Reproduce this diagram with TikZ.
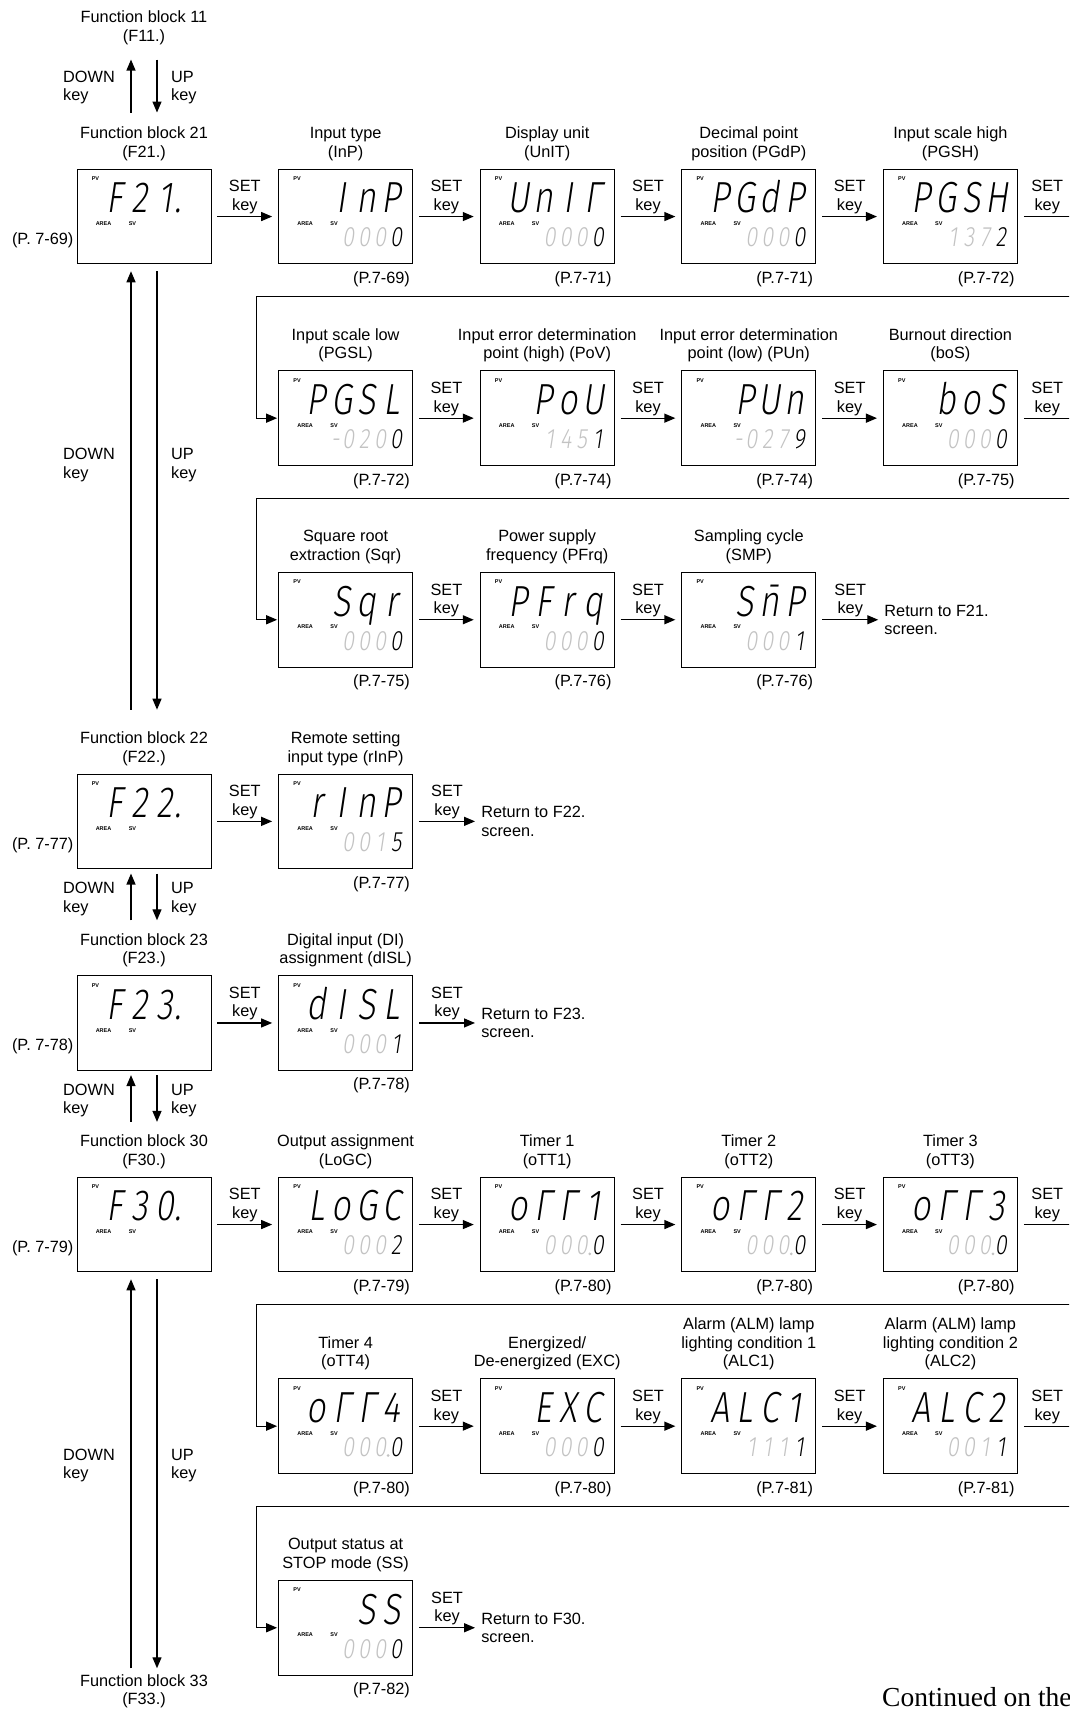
\documentclass[tikz,border=0pt]{standalone}
\usepackage{fontspec}
\setmainfont{Liberation Sans}
\newfontfamily\segfont[FakeSlant=0.15,FakeStretch=0.78]{Fira Sans Light}
\newfontfamily\contfont{Liberation Serif}
\usetikzlibrary{arrows.meta,calc}
\definecolor{segGrey}{RGB}{195,195,195}
\tikzset{
  lbl/.style={font=\fontsize{16.3}{18.6}\selectfont, align=center, inner sep=0pt},
  dispbox/.style={draw, line width=0.9pt, minimum width=134pt, minimum height=94.5pt, inner sep=0pt},
  arr/.style={line width=1.3pt, -{Triangle[length=11pt,width=9pt]}},
  tinylbl/.style={font=\fontsize{5.5}{6}\selectfont\bfseries, inner sep=0pt, anchor=west},
  pvch/.style={font=\segfont\fontsize{43.5}{44}\selectfont, inner sep=0pt, anchor=base},
  svch/.style={font=\segfont\fontsize{28}{28}\selectfont, inner sep=0pt, anchor=base},
  svgrey/.style={svch, text=segGrey},
  setlbl/.style={lbl, anchor=south, inner sep=2pt},
}
\def\cxA{77}\def\cxB{278.6}\def\cxC{480.2}\def\cxD{681.8}\def\cxE{883.4}
\def\ryA{169.3}\def\ryB{370.9}\def\ryC{572.5}\def\ryD{774.1}
\def\ryE{975.7}\def\ryF{1177.3}\def\ryG{1378.9}\def\ryH{1580.5}
\newcommand\dbox[3]{%
  \node[dispbox] (#1) at ({#2+67},{#3+47.25}) {};
  \node[tinylbl] (#1-pv) at ($(#1.north west)+(15,10)$) {PV};
  \node[tinylbl] (#1-area) at ($(#1.north west)+(19,55)$) {AREA};
  \node[tinylbl] (#1-svl) at ($(#1.north west)+(52,55)$) {SV};}
\newcommand\pv[5]{%
  \node[pvch] (#1-p1) at ($(#1.north west)+(38.5,44)$) {#2};
  \node[pvch] (#1-p2) at ($(#1.north west)+(63.5,44)$) {#3};
  \node[pvch] (#1-p3) at ($(#1.north west)+(88.5,44)$) {#4};
  \node[pvch] (#1-p4) at ($(#1.north west)+(113.5,44)$) {#5};}
\newcommand\sv[5]{%
  \node[svgrey] (#1-s1) at ($(#1.north west)+(70,78)$) {#2};
  \node[svgrey] (#1-s2) at ($(#1.north west)+(86,78)$) {#3};
  \node[svgrey] (#1-s3) at ($(#1.north west)+(102,78)$) {#4};
  \node[svch] (#1-s4) at ($(#1.north west)+(118,78)$) {#5};}
\newcommand\pvdot[1]{\node[pvch] (#1-pd) at ($(#1.north west)+(101,44)$) {.};}
\newcommand\svdot[1]{\fill[segGrey] ($(#1.north west)+(110,77)$) circle[radius=1.5pt];}
\newcommand\svminus[1]{\node[svgrey] (#1-sm) at ($(#1.north west)+(57,78)$) {-};}
\newcommand\toplbl[2]{\node[lbl, anchor=south] (#1-t) at ($(#1.north)+(0,-8)$) {#2};}
\newcommand\pref[2]{\node[lbl, anchor=east] (#1-r) at ($(#1.south east)+(-3,15)$) {#2};}
\newcommand\lpref[2]{\node[lbl, anchor=east] (#1-r) at ($(#1.south west)+(-3,-24)$) {#2};}
\newcommand\setarr[2]{\draw[arr] ([xshift=6pt]#1.east) -- ([xshift=-6pt]#2.west) node[midway, setlbl] (#1-set) {SET\\key};}
\newcommand\wraparr[2]{\draw[arr] ([xshift=6pt]#1.east) -- ++(52,0) node[pos=0.45, setlbl] (#1-set) {SET\\key} -- ++(0,80) -| ($(#2.west)+(-21.6,0)$) -- ([xshift=-1pt]#2.west);}
\newcommand\retarr[3]{\node[lbl, anchor=west, align=left] (#2) at ($(#1.east)+(68,0)$) {#3};\setarr{#1}{#2}}
\newcommand\keys[2]{%
  \node[lbl, align=left, anchor=west] (#1-dn) at (63,#2) {DOWN\\key};
  \node[lbl, align=left, anchor=west] (#1-up) at (171,#2) {UP\\key};}
\begin{document}
\begin{tikzpicture}[x=1pt,y=-1pt]
\useasboundingbox (0,0) rectangle (1069,1709);
\clip (0,0) rectangle (1069,1709);
\fill[white] (0,0) rectangle (1069,1709);

% ---------- Row 1 ----------
\dbox{b11}{\cxA}{\ryA}\pv{b11}{F}{2}{1}{}\pvdot{b11}
\toplbl{b11}{Function block 21\\(F21.)}\lpref{b11}{(P. 7-69)}
\dbox{b12}{\cxB}{\ryA}\pv{b12}{}{I}{n}{P}\sv{b12}{0}{0}{0}{0}
\toplbl{b12}{Input type\\(InP)}\pref{b12}{(P.7-69)}
\dbox{b13}{\cxC}{\ryA}\pv{b13}{U}{n}{I}{Γ}\sv{b13}{0}{0}{0}{0}
\toplbl{b13}{Display unit\\(UnIT)}\pref{b13}{(P.7-71)}
\dbox{b14}{\cxD}{\ryA}\pv{b14}{P}{G}{d}{P}\sv{b14}{0}{0}{0}{0}
\toplbl{b14}{Decimal point\\position (PGdP)}\pref{b14}{(P.7-71)}
\dbox{b15}{\cxE}{\ryA}\pv{b15}{P}{G}{S}{H}\sv{b15}{1}{3}{7}{2}
\toplbl{b15}{Input scale high\\(PGSH)}\pref{b15}{(P.7-72)}

% ---------- Row 2 ----------
\dbox{b22}{\cxB}{\ryB}\pv{b22}{P}{G}{S}{L}\sv{b22}{0}{2}{0}{0}\svminus{b22}
\toplbl{b22}{Input scale low\\(PGSL)}\pref{b22}{(P.7-72)}
\dbox{b23}{\cxC}{\ryB}\pv{b23}{}{P}{o}{U}\sv{b23}{1}{4}{5}{1}
\toplbl{b23}{Input error determination\\point (high) (PoV)}\pref{b23}{(P.7-74)}
\dbox{b24}{\cxD}{\ryB}\pv{b24}{}{P}{U}{n}\sv{b24}{0}{2}{7}{9}\svminus{b24}
\toplbl{b24}{Input error determination\\point (low) (PUn)}\pref{b24}{(P.7-74)}
\dbox{b25}{\cxE}{\ryB}\pv{b25}{}{b}{o}{S}\sv{b25}{0}{0}{0}{0}
\toplbl{b25}{Burnout direction\\(boS)}\pref{b25}{(P.7-75)}

% ---------- Row 3 ----------
\dbox{b32}{\cxB}{\ryC}\pv{b32}{}{S}{q}{r}\sv{b32}{0}{0}{0}{0}
\toplbl{b32}{Square root\\extraction (Sqr)}\pref{b32}{(P.7-75)}
\dbox{b33}{\cxC}{\ryC}\pv{b33}{P}{F}{r}{q}\sv{b33}{0}{0}{0}{0}
\toplbl{b33}{Power supply\\frequency (PFrq)}\pref{b33}{(P.7-76)}
\dbox{b34}{\cxD}{\ryC}\pv{b34}{}{S}{\=n}{P}\sv{b34}{0}{0}{0}{1}
\toplbl{b34}{Sampling cycle\\(SMP)}\pref{b34}{(P.7-76)}

% ---------- Row 4 ----------
\dbox{b41}{\cxA}{\ryD}\pv{b41}{F}{2}{2}{}\pvdot{b41}
\toplbl{b41}{Function block 22\\(F22.)}\lpref{b41}{(P. 7-77)}
\dbox{b42}{\cxB}{\ryD}\pv{b42}{r}{I}{n}{P}\sv{b42}{0}{0}{1}{5}
\toplbl{b42}{Remote setting\\input type (rInP)}\pref{b42}{(P.7-77)}

% ---------- Row 5 ----------
\dbox{b51}{\cxA}{\ryE}\pv{b51}{F}{2}{3}{}\pvdot{b51}
\toplbl{b51}{Function block 23\\(F23.)}\lpref{b51}{(P. 7-78)}
\dbox{b52}{\cxB}{\ryE}\pv{b52}{d}{I}{S}{L}\sv{b52}{0}{0}{0}{1}
\toplbl{b52}{Digital input (DI)\\assignment (dISL)}\pref{b52}{(P.7-78)}

% ---------- Row 6 ----------
\dbox{b61}{\cxA}{\ryF}\pv{b61}{F}{3}{0}{}\pvdot{b61}
\toplbl{b61}{Function block 30\\(F30.)}\lpref{b61}{(P. 7-79)}
\dbox{b62}{\cxB}{\ryF}\pv{b62}{L}{o}{G}{C}\sv{b62}{0}{0}{0}{2}
\toplbl{b62}{Output assignment\\(LoGC)}\pref{b62}{(P.7-79)}
\dbox{b63}{\cxC}{\ryF}\pv{b63}{o}{Γ}{Γ}{1}\sv{b63}{0}{0}{0}{0}\svdot{b63}
\toplbl{b63}{Timer 1\\(oTT1)}\pref{b63}{(P.7-80)}
\dbox{b64}{\cxD}{\ryF}\pv{b64}{o}{Γ}{Γ}{2}\sv{b64}{0}{0}{0}{0}\svdot{b64}
\toplbl{b64}{Timer 2\\(oTT2)}\pref{b64}{(P.7-80)}
\dbox{b65}{\cxE}{\ryF}\pv{b65}{o}{Γ}{Γ}{3}\sv{b65}{0}{0}{0}{0}\svdot{b65}
\toplbl{b65}{Timer 3\\(oTT3)}\pref{b65}{(P.7-80)}

% ---------- Row 7 ----------
\dbox{b72}{\cxB}{\ryG}\pv{b72}{o}{Γ}{Γ}{4}\sv{b72}{0}{0}{0}{0}\svdot{b72}
\toplbl{b72}{Timer 4\\(oTT4)}\pref{b72}{(P.7-80)}
\dbox{b73}{\cxC}{\ryG}\pv{b73}{}{E}{X}{C}\sv{b73}{0}{0}{0}{0}
\toplbl{b73}{Energized/\\De-energized (EXC)}\pref{b73}{(P.7-80)}
\dbox{b74}{\cxD}{\ryG}\pv{b74}{A}{L}{C}{1}\sv{b74}{1}{1}{1}{1}
\toplbl{b74}{Alarm (ALM) lamp\\lighting condition 1\\(ALC1)}\pref{b74}{(P.7-81)}
\dbox{b75}{\cxE}{\ryG}\pv{b75}{A}{L}{C}{2}\sv{b75}{0}{0}{1}{1}
\toplbl{b75}{Alarm (ALM) lamp\\lighting condition 2\\(ALC2)}\pref{b75}{(P.7-81)}

% ---------- Row 8 ----------
\dbox{b82}{\cxB}{\ryH}\pv{b82}{}{}{S}{S}\sv{b82}{0}{0}{0}{0}
\toplbl{b82}{Output status at\\STOP mode (SS)}\pref{b82}{(P.7-82)}

% ---------- SET key arrows ----------
\setarr{b11}{b12}\setarr{b12}{b13}\setarr{b13}{b14}\setarr{b14}{b15}
\wraparr{b15}{b22}
\setarr{b22}{b23}\setarr{b23}{b24}\setarr{b24}{b25}
\wraparr{b25}{b32}
\setarr{b32}{b33}\setarr{b33}{b34}
\retarr{b34}{r34}{Return to F21.\\screen.}
\setarr{b41}{b42}
\retarr{b42}{r42}{Return to F22.\\screen.}
\setarr{b51}{b52}
\retarr{b52}{r52}{Return to F23.\\screen.}
\setarr{b61}{b62}\setarr{b62}{b63}\setarr{b63}{b64}\setarr{b64}{b65}
\wraparr{b65}{b72}
\setarr{b72}{b73}\setarr{b73}{b74}\setarr{b74}{b75}
\wraparr{b75}{b82}
\retarr{b82}{r82}{Return to F30.\\screen.}

% ---------- Function block column ----------
\node[lbl] (l0) at (144,28) {Function block 11\\(F11.)};
\node[lbl, anchor=south] (l9) at (144,1708.5) {Function block 33\\(F33.)};

\draw[arr] ([xshift=-13pt,yshift=56.3pt]b11.north) -- ([xshift=-13pt,yshift=109.3pt]b11.north);
\draw[arr] ([xshift=13pt,yshift=109.3pt]b11.north) -- ([xshift=13pt,yshift=56.3pt]b11.north);
\keys{k1}{87.5}

\draw[arr] ([xshift=-13pt,yshift=64pt]b41.north) -- ([xshift=-13pt,yshift=-7pt]b11.south);
\draw[arr] ([xshift=13pt,yshift=-7pt]b11.south) -- ([xshift=13pt,yshift=64pt]b41.north);
\keys{k2}{465}

\draw[arr] ([xshift=-13pt,yshift=55pt]b51.north) -- ([xshift=-13pt,yshift=-4.5pt]b41.south);
\draw[arr] ([xshift=13pt,yshift=-4.5pt]b41.south) -- ([xshift=13pt,yshift=55pt]b51.north);
\keys{k3}{899}

\draw[arr] ([xshift=-13pt,yshift=55pt]b61.north) -- ([xshift=-13pt,yshift=-4.5pt]b51.south);
\draw[arr] ([xshift=13pt,yshift=-4.5pt]b51.south) -- ([xshift=13pt,yshift=55pt]b61.north);
\keys{k4}{1100.5}

\draw[arr] ([xshift=-13pt,yshift=-396pt]b61.south) -- ([xshift=-13pt,yshift=-7pt]b61.south);
\draw[arr] ([xshift=13pt,yshift=-7pt]b61.south) -- ([xshift=13pt,yshift=-396pt]b61.south);
\keys{k5}{1465.5}

% ---------- footer ----------
\node[font=\contfont\fontsize{27.5}{30}\selectfont, anchor=base west, inner sep=0pt] (cont) at (882,1706) {Continued on the};
\end{tikzpicture}
\end{document}
